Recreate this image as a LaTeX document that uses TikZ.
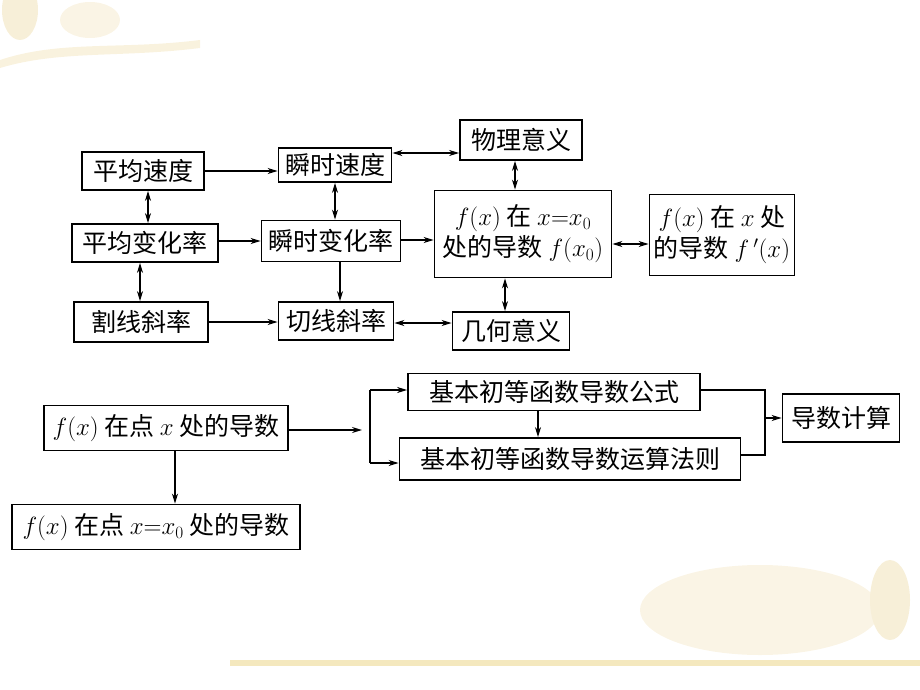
\documentclass[tikz,border=0pt]{standalone}
\usepackage{fontspec}
\newfontfamily\cjk{Noto Sans CJK SC}
\usetikzlibrary{arrows.meta}
\begin{document}
\begin{tikzpicture}[x=1pt,y=-1pt,
  box/.style={draw,line width=1.8pt,inner sep=0pt,font=\fontsize{25}{31}\selectfont\cjk,align=center},
  ar/.style={-{Stealth[length=10pt,width=6pt]},line width=1.3pt},
  dbl/.style={{Stealth[length=10pt,width=6pt]}-{Stealth[length=10pt,width=6pt]},line width=1.3pt}]
\useasboundingbox (0,0) rectangle (920,690);
% decoration
\fill[yellow!30!brown!15] (0,60) .. controls (60,40) and (120,50) .. (200,40) -- (200,48) .. controls (120,58) and (60,50) .. (0,68) -- cycle;
\fill[yellow!30!brown!18] (20,10) ellipse (18pt and 30pt);
\fill[yellow!30!brown!12] (90,20) ellipse (30pt and 18pt);
\fill[yellow!30!brown!12] (760,610) ellipse (120pt and 45pt);
\fill[yellow!30!brown!18] (890,600) ellipse (20pt and 40pt);
\fill[yellow!40!brown!30] (230,660) rectangle (920,666);
\node[box,minimum width=122pt,minimum height=38pt] (pjsd) at (143,171) {平均速度};
\node[box,minimum width=113pt,minimum height=34pt] (sssd) at (335,165) {瞬时速度};
\node[box,minimum width=122pt,minimum height=40pt] (wlyy) at (521,140) {物理意义};
\node[box,minimum width=146pt,minimum height=38pt] (pjbh) at (145,243) {平均变化率};
\node[box,minimum width=139pt,minimum height=41pt] (ssbh) at (331,241) {瞬时变化率};
\node[box,minimum width=177pt,minimum height=87pt] (fx0) at (523,234) {$f(x)$ 在 $x{=}x_0$\\处的导数 $f(x_0)$};
\node[box,minimum width=145pt,minimum height=81pt] (fx) at (722,235) {$f(x)$ 在 $x$ 处\\的导数 $f\,'(x)$};
\node[box,minimum width=134pt,minimum height=40pt] (gxxl) at (141,322) {割线斜率};
\node[box,minimum width=115pt,minimum height=38pt] (qxxl) at (336,321) {切线斜率};
\node[box,minimum width=117pt,minimum height=38pt] (jhyy) at (511,331) {几何意义};
\node[box,minimum width=244pt,minimum height=45pt] (dx) at (166,428) {$f(x)$ 在点 $x$ 处的导数};
\node[box,minimum width=288pt,minimum height=45pt] (dx0) at (156,527) {$f(x)$ 在点 $x{=}x_0$ 处的导数};
\node[box,minimum width=292pt,minimum height=37pt] (gs) at (554,392) {基本初等函数导数公式};
\node[box,minimum width=341pt,minimum height=42pt] (fz) at (570,459) {基本初等函数导数运算法则};
\node[box,minimum width=117pt,minimum height=48pt] (js) at (841,418) {导数计算};
% top arrows
\draw[ar] (pjsd.east |- 0,171) -- (sssd.west |- 0,171);
\draw[dbl] (sssd.east |- 0,153) -- (wlyy.west |- 0,153);
\draw[dbl] (wlyy.south -| 515,0) -- (fx0.north -| 515,0);
\draw[dbl] (pjsd.south -| 148,0) -- (pjbh.north -| 148,0);
\draw[ar] (pjbh.east |- 0,241) -- (ssbh.west |- 0,241);
\draw[dbl] (sssd.south) -- (ssbh.north -| sssd.south);
\draw[ar] (ssbh.east |- 0,240) -- (fx0.west |- 0,240);
\draw[dbl] (pjbh.south -| 140,0) -- (gxxl.north -| 140,0);
\draw[ar] (ssbh.south -| 340,0) -- (qxxl.north -| 340,0);
\draw[ar] (gxxl.east |- 0,322) -- (qxxl.west |- 0,322);
\draw[dbl] (qxxl.east |- 0,323) -- (jhyy.west |- 0,323);
\draw[dbl] (fx0.south -| 505,0) -- (jhyy.north -| 505,0);
\draw[dbl] (fx0.east |- 0,244) -- (fx.west |- 0,244);
% bottom arrows
\coordinate (br) at (362,430);
\draw[ar] (dx.east |- br) -- (br);
\draw[line width=1.3pt] (370,390) -- (370,463);
\draw[ar] (370,390) -- (gs.west |- 0,390);
\draw[ar] (370,463) -- (fz.west |- 0,463);
\draw[ar] (gs.south -| 538,0) -- (fz.north -| 538,0);
\draw[line width=1.3pt] (gs.east |- 0,390) -- (765,390) -- (765,455) -- (fz.east |- 0,455);
\draw[ar] (765,418) -- (js.west);
\draw[ar] (dx.south -| 175,0) -- (dx0.north -| 175,0);
\end{tikzpicture}
\end{document}
